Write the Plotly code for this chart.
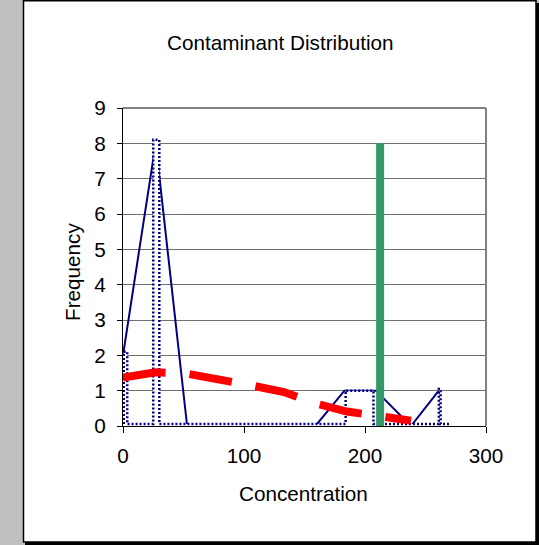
import plotly.graph_objects as go

# ---- data ----
conc_bins = [0, 27, 53, 80, 106, 133, 159, 183, 209, 238, 261]
freq = [2, 8, 0, 0, 0, 0, 0, 1, 1, 0, 1]

# dotted histogram outline (x, y pairs of the step outline)
hist_x = [0.6, 0.6, 3.5, 3.5, 25, 25, 30, 30, 184, 184, 207, 207, 261, 261, 262.5, 262.5, 271]
hist_y = [0.06, 2.1, 2.1, 0.06, 0.06, 8.1, 8.1, 0.06, 0.06, 1.0, 1.0, 0.06, 0.06, 1.05, 1.05, 0.06, 0.06]

# fitted distribution curve (red dashed)
fit_x = [0, 27, 53, 80, 106, 133, 159, 185, 212, 238]
fit_y = [1.37, 1.52, 1.48, 1.34, 1.15, 0.96, 0.64, 0.41, 0.26, 0.15]

# limit line (green)
limit_x = [212.5, 212.5]
limit_y = [0, 8]

x_ticks = [0, 100, 200, 300]
y_ticks = list(range(0, 10))

# ---- layout geometry (pixels) ----
W, H = 539, 545
L, R, T, B = 123, 53, 108, 119
PW, PH = W - L - R, H - T - B
BOT = H - B


def px_x(p):
    return (p - L) / PW


def px_y(p):
    return (BOT - p) / PH


FONT = "Liberation Sans, Arial, sans-serif"
FS = 20.7

fig = go.Figure()

fig.add_trace(go.Scatter(x=conc_bins, y=freq, mode="lines",
                         line=dict(color="#000080", width=2), hoverinfo="skip"))
fig.add_trace(go.Scatter(x=hist_x, y=hist_y, mode="lines", fill="tozeroy",
                         fillcolor="white",
                         line=dict(color="#000080", width=2.5, dash="2px,2px"),
                         hoverinfo="skip"))
fig.add_trace(go.Scatter(x=fit_x, y=fit_y, mode="lines",
                         line=dict(color="#ff0000", width=8, dash="43px,24px"),
                         hoverinfo="skip"))
fig.add_trace(go.Scatter(x=limit_x, y=limit_y, mode="lines",
                         line=dict(color="#339966", width=8), hoverinfo="skip"))

shapes = [
    # shadow
    dict(type="rect", xref="paper", yref="paper", layer="below",
         x0=px_x(25), x1=px_x(540), y0=px_y(3), y1=px_y(546),
         fillcolor="black", line=dict(width=0)),
    # chart area
    dict(type="rect", xref="paper", yref="paper", layer="below",
         x0=px_x(23.5), x1=px_x(536), y0=px_y(0.8), y1=px_y(542),
         fillcolor="white", line=dict(color="black", width=1.5)),
    # plot area top/right border
    dict(type="line", xref="paper", yref="paper", layer="above",
         x0=0, x1=1, y0=1, y1=1, line=dict(color="#808080", width=2)),
    dict(type="line", xref="paper", yref="paper", layer="above",
         x0=1, x1=1, y0=0, y1=1, line=dict(color="#808080", width=2)),
]

annotations = [
    dict(text="Contaminant Distribution", xref="paper", yref="paper",
         x=px_x(280.5), y=px_y(42), xanchor="center", yanchor="middle",
         showarrow=False, font=dict(family=FONT, size=FS, color="black")),
    dict(text="Frequency", xref="paper", yref="paper", textangle=-90,
         x=px_x(72), y=px_y(272), xanchor="center", yanchor="middle",
         showarrow=False, font=dict(family=FONT, size=FS, color="black")),
    dict(text="Concentration", xref="paper", yref="paper",
         x=px_x(303.5), y=px_y(493), xanchor="center", yanchor="middle",
         showarrow=False, font=dict(family=FONT, size=FS, color="black")),
]

fig.update_layout(
    width=W, height=H,
    margin=dict(l=L, r=R, t=T, b=B, pad=0),
    paper_bgcolor="#c0c0c0",
    plot_bgcolor="white",
    showlegend=False,
    shapes=shapes,
    annotations=annotations,
    font=dict(family=FONT, size=FS, color="black"),
    xaxis=dict(range=[0, 300], tickvals=x_ticks, ticktext=[str(v) for v in x_ticks],
               showgrid=False, zeroline=False, showline=True, linecolor="black",
               linewidth=1, ticks="outside", ticklen=6, tickcolor="black",
               ticklabelstandoff=5, fixedrange=True),
    yaxis=dict(range=[0, 9], tickvals=y_ticks, ticktext=[str(v) for v in y_ticks],
               showgrid=True, gridcolor="#707070", gridwidth=1, zeroline=False,
               showline=True, linecolor="black", linewidth=1, ticks="outside",
               ticklen=5, tickcolor="black", ticklabelstandoff=7, fixedrange=True),
)

fig.write_html("out.html", config={"displayModeBar": False, "staticPlot": True},
               post_script="document.body.style.margin='0';document.body.style.overflow='hidden';")
